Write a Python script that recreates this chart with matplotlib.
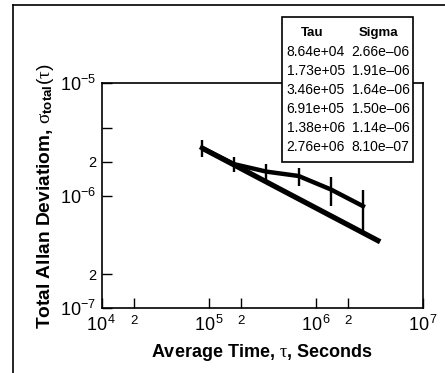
import matplotlib
matplotlib.use("Agg")
import matplotlib.pyplot as plt
from matplotlib.lines import Line2D
from matplotlib.patches import Rectangle

plt.rcParams["font.family"] = ["Liberation Sans", "DejaVu Sans"]
plt.rcParams["mathtext.fontset"] = "custom"
plt.rcParams["mathtext.rm"] = "Liberation Sans"
plt.rcParams["mathtext.bf"] = "Liberation Sans:bold"
plt.rcParams["mathtext.it"] = "Liberation Serif"

# measured Allan deviation points (from the table in the chart)
tau = [8.64e4, 1.73e5, 3.46e5, 6.91e5, 1.38e6, 2.76e6]
sigma = [2.66e-6, 1.91e-6, 1.64e-6, 1.50e-6, 1.14e-6, 8.10e-7]
sigma_err = [4.5e-7, 2.9e-7, 2.6e-7, 2.7e-7, 3.3e-7, 3.2e-7]

# reference slope line (tau^-1/2)
line_tau = [8.64e4, 4.0e6]
line_sigma = [2.66e-6, 3.9e-7]

tau_txt = ["8.64e+04", "1.73e+05", "3.46e+05", "6.91e+05", "1.38e+06", "2.76e+06"]
sigma_txt = ["2.66e\u201306", "1.91e\u201306", "1.64e\u201306", "1.50e\u201306",
             "1.14e\u201306", "8.10e\u201307"]

xmajor = [1e4, 1e5, 1e6, 1e7]
xmajor_lbl = [r"$\mathregular{10^{\,4}}$", r"$\mathregular{10^{\,5}}$",
              r"$\mathregular{10^{\,6}}$", r"$\mathregular{10^{\,7}}$"]
xminor = [2e4, 2e5, 2e6]
xminor_lbl = ["2", "2", "2"]
ymajor = [1e-7, 1e-6, 1e-5]
ymajor_lbl = [r"$\mathregular{10^{-7}}$", r"$\mathregular{10^{-6}}$",
              r"$\mathregular{10^{-5}}$"]
yminor = [2e-7, 2e-6, 4e-6]
yminor_lbl = ["2", "2", ""]

fig = plt.figure(figsize=(4.45, 3.73), dpi=100)
ax = fig.add_axes([0.2285, 0.1735, 0.7215, 0.6032])

ax.plot(line_tau, line_sigma, "k-", lw=3.8, solid_capstyle="butt")
ax.errorbar(tau, sigma, yerr=sigma_err, fmt="k-", lw=3.2, elinewidth=1.7,
            capsize=0)

ax.set_xscale("log")
ax.set_yscale("log")
ax.set_xlim(1e4, 1e7)
ax.set_ylim(1e-7, 1e-5)

ax.set_xticks(xmajor)
ax.set_xticklabels(xmajor_lbl)
ax.set_xticks(xminor, minor=True)
ax.set_xticklabels(xminor_lbl, minor=True)
ax.set_yticks(ymajor)
ax.set_yticklabels(ymajor_lbl)
ax.set_yticks(yminor, minor=True)
ax.set_yticklabels(yminor_lbl, minor=True)

ax.tick_params(axis="both", which="both", direction="in", length=7, width=1,
               top=False, right=False)
ax.tick_params(axis="x", which="major", labelsize=13, pad=5)
ax.tick_params(axis="x", which="minor", labelsize=9.5, pad=5)
ax.tick_params(axis="y", which="major", labelsize=13, pad=4)
ax.tick_params(axis="y", which="minor", labelsize=10.5, pad=4)
for s in ax.spines.values():
    s.set_linewidth(1.2)

ax.set_xlabel(r"Average Time, $\tau$, Seconds", fontsize=13, fontweight="bold",
              labelpad=5)
ax.set_ylabel(r"Total Allan Deviatiom, $\sigma_{\mathbf{total}}(\tau)$",
              fontsize=13.8, fontweight="bold", labelpad=3)

# table box
fig.add_artist(Rectangle((0.633, 0.5665), 0.296, 0.387, transform=fig.transFigure,
                         facecolor="white", edgecolor="black", lw=1.2, zorder=5))
fig.text(0.701, 1 - 32.7 / 373, "Tau", ha="center", va="center", fontsize=9.5,
         fontweight="bold", zorder=6)
fig.text(0.850, 1 - 32.7 / 373, "Sigma", ha="center", va="center", fontsize=9.5,
         fontweight="bold", zorder=6)
for i, (t, s) in enumerate(zip(tau_txt, sigma_txt)):
    yy = 1 - (52.3 + 19.0 * i) / 373
    fig.text(0.7095, yy, t, ha="center", va="center", fontsize=10, zorder=6)
    fig.text(0.8555, yy, s, ha="center", va="center", fontsize=10, zorder=6)

# outer frame (left and top edges)
fig.add_artist(Line2D([0.0285, 0.0285], [0.0, 0.9866], color="black", lw=1.2))
fig.add_artist(Line2D([0.0285, 1.0], [0.9866, 0.9866], color="black", lw=1.2))

fig.savefig("out.png", dpi=100)
